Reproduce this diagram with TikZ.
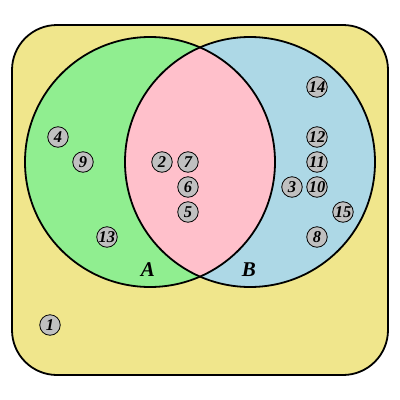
\documentclass[tikz,border=0pt]{standalone}
\usepackage{fontspec}
\setmainfont{Liberation Serif}
\definecolor{khaki}{HTML}{F0E68C}
\definecolor{lgreen}{HTML}{90EE90}
\definecolor{lblue}{HTML}{ADD8E6}
\definecolor{lpink}{HTML}{FFC0CB}
\definecolor{silv}{HTML}{C0C0C0}
\begin{document}
\begin{tikzpicture}[x=1pt,y=-1pt,
  elem/.style={circle,draw=black,fill=silv,line width=0.8pt,minimum size=20.5pt,inner sep=0pt,font=\fontsize{16.5}{16.5}\selectfont\bfseries\itshape},
  setlabel/.style={font=\fontsize{21}{21}\selectfont\bfseries\itshape}]
\useasboundingbox (0,0) rectangle (400,400);
\draw[fill=khaki,line width=1.8pt,rounded corners=45pt] (12,25) rectangle (388,375);
\fill[lgreen] (150,162) circle (125);
\fill[lblue] (250,162) circle (125);
\begin{scope}
\clip (150,162) circle (125);
\fill[lpink] (250,162) circle (125);
\end{scope}
\draw[line width=1.8pt] (150,162) circle (125);
\draw[line width=1.8pt] (250,162) circle (125);
\node[setlabel] (A) at (148,270) {A};
\node[setlabel] (B) at (249,270) {B};
\node[elem] (n4) at (58,137) {4};
\node[elem] (n9) at (83,162) {9};
\node[elem] (n13) at (107,237) {13};
\node[elem] (n1) at (50,325) {1};
\node[elem] (n2) at (162,162) {2};
\node[elem] (n7) at (188,162) {7};
\node[elem] (n6) at (188,187) {6};
\node[elem] (n5) at (188,212) {5};
\node[elem] (n14) at (317,87) {14};
\node[elem] (n12) at (317,137) {12};
\node[elem] (n11) at (317,162) {11};
\node[elem] (n10) at (317,187) {10};
\node[elem] (n3) at (292,187) {3};
\node[elem] (n15) at (343,212) {15};
\node[elem] (n8) at (317,237) {8};
\end{tikzpicture}
\end{document}
